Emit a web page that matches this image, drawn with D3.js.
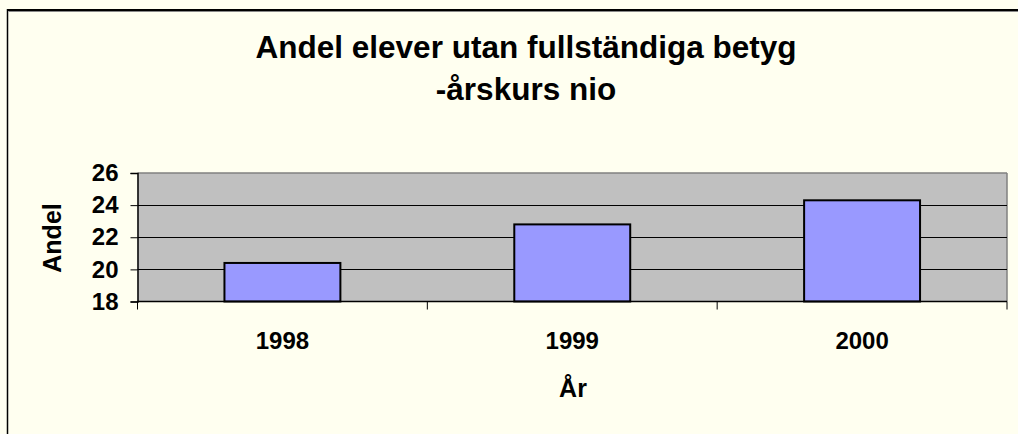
<!DOCTYPE html>
<html><head><meta charset="utf-8">
<script src="https://cdn.jsdelivr.net/npm/d3@7"></script>
<style>html,body{margin:0;padding:0;background:#FFFFF0;}svg{display:block;}</style>
</head><body>
<script>
const categories = ["1998", "1999", "2000"];
const values = [20.4, 22.8, 24.3];
const yTicks = [18, 20, 22, 24, 26];
const titleLines = ["Andel elever utan fullständiga betyg", "-årskurs nio"];
const yTitle = "Andel";
const xTitle = "År";

const W = 1018, H = 434;
const svg = d3.select("body").append("svg").attr("width", W).attr("height", H);
const font = "'Liberation Sans', Arial, sans-serif";

svg.append("rect").attr("width", W).attr("height", H).attr("fill", "#FFFFF0");
// chart frame (top/left visible)
svg.append("line").attr("x1", 7.5).attr("x2", W).attr("y1", 10).attr("y2", 10).attr("stroke", "#000").attr("stroke-width", 2);
svg.append("line").attr("x1", 7.5).attr("x2", 7.5).attr("y1", 9).attr("y2", H).attr("stroke", "#000").attr("stroke-width", 1.5);
svg.append("line").attr("x1", 8.5).attr("x2", W).attr("y1", 11.5).attr("y2", 11.5).attr("stroke", "#888", ).attr("stroke-width", 1);

const m = {left: 137.5, right: 1007, top: 173, bottom: 301.5};
const x = d3.scaleBand().domain(categories).range([m.left, m.right]).paddingInner(0.6).paddingOuter(0.3);
const xb = d3.scaleBand().domain(categories).range([m.left, m.right]);
const y = d3.scaleLinear().domain([18, 26]).range([m.bottom, m.top]);

// plot area
svg.append("rect").attr("x", m.left).attr("y", m.top).attr("width", m.right - m.left).attr("height", m.bottom - m.top)
  .attr("fill", "#C0C0C0");
svg.append("line").attr("x1", m.left).attr("x2", m.right).attr("y1", m.top).attr("y2", m.top).attr("stroke", "#808080").attr("stroke-width", 1.5);
svg.append("line").attr("x1", m.right).attr("x2", m.right).attr("y1", m.top).attr("y2", m.bottom).attr("stroke", "#808080").attr("stroke-width", 1.5);

// gridlines
svg.append("g").selectAll("line").data(yTicks.filter(t => t > 18 && t < 26)).join("line")
  .attr("x1", m.left).attr("x2", m.right)
  .attr("y1", d => Math.round(y(d)) + 0.5).attr("y2", d => Math.round(y(d)) + 0.5)
  .attr("stroke", "#000").attr("stroke-width", 1);

// bars
svg.append("g").selectAll("rect").data(categories).join("rect")
  .attr("x", d => x(d)).attr("width", x.bandwidth())
  .attr("y", (d, i) => y(values[i])).attr("height", (d, i) => y(18) - y(values[i]))
  .attr("fill", "#9999FF").attr("stroke", "#000").attr("stroke-width", 2);

// y axis
const yAxis = d3.axisLeft(y).tickValues(yTicks).tickSize(7).tickPadding(12).tickFormat(d3.format("d"));
const gy = svg.append("g").attr("transform", `translate(${m.left},0)`).call(yAxis);
gy.select(".domain").attr("stroke", "#000").attr("stroke-width", 1.5);
gy.selectAll(".tick line").attr("stroke", "#000");
gy.selectAll("text").attr("font-family", font).attr("font-weight", "bold").attr("font-size", 24).attr("fill", "#000");

// x axis
const gx = svg.append("g").attr("transform", `translate(0,${m.bottom})`);
gx.append("line").attr("x1", m.left).attr("x2", m.right).attr("y1", 0).attr("y2", 0).attr("stroke", "#000").attr("stroke-width", 1.5);
const bounds = categories.map(c => xb(c)).concat([xb(categories[categories.length - 1]) + xb.bandwidth()]);
gx.selectAll("line.t").data(bounds).join("line").attr("class", "t")
  .attr("x1", d => d).attr("x2", d => d).attr("y1", 0).attr("y2", 8).attr("stroke", "#000").attr("stroke-width", 1);
gx.selectAll("text").data(categories).join("text")
  .attr("x", d => xb(d) + xb.bandwidth() / 2).attr("y", 47)
  .attr("text-anchor", "middle").attr("font-family", font).attr("font-weight", "bold").attr("font-size", 24).text(d => d);

// titles
svg.append("g").selectAll("text").data(titleLines).join("text")
  .attr("x", 526).attr("y", (d, i) => 58 + i * 42).attr("text-anchor", "middle")
  .attr("font-family", font).attr("font-weight", "bold").attr("font-size", 31.5).text(d => d);
svg.append("text").attr("transform", "translate(61,238) rotate(-90)").attr("text-anchor", "middle")
  .attr("font-family", font).attr("font-weight", "bold").attr("font-size", 25).text(yTitle);
svg.append("text").attr("x", 573).attr("y", 397).attr("text-anchor", "middle")
  .attr("font-family", font).attr("font-weight", "bold").attr("font-size", 25).text(xTitle);
</script>
</body></html>
